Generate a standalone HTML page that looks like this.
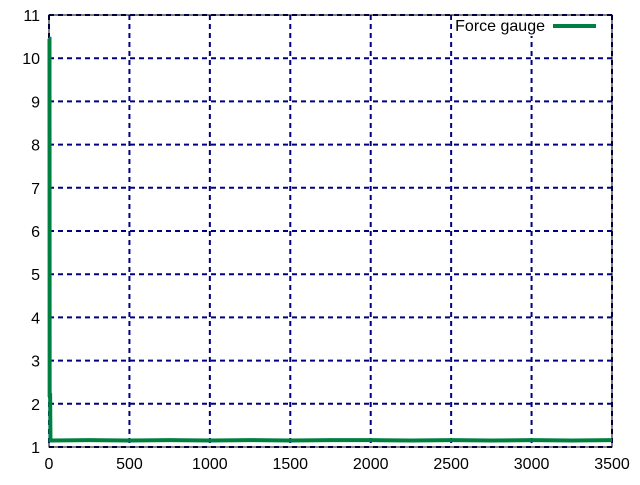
<!DOCTYPE html>
<html><head><meta charset="utf-8"><style>
body{margin:0;background:#fff;}
svg text{font-family:"Liberation Sans",sans-serif;font-size:16px;fill:#000;}
</style></head><body>
<svg id="chart" width="640" height="480">
<g id="grid"></g>
<g id="axes"></g>
<g id="series"></g>
<g>
<rect x="452" y="16" width="154" height="20" fill="#fff"/>
<text x="545" y="31" text-anchor="end">Force gauge</text>
<line x1="553" y1="26" x2="596" y2="26" stroke="#008040" stroke-width="4"/>
</g>
</svg>
<script>
const xTicks=[0,500,1000,1500,2000,2500,3000,3500];
const yTicks=[1,2,3,4,5,6,7,8,9,10,11];
const timeVals=[0,3,4,7,9,12,250,500,750,1000,1250,1500,1750,2000,2250,2500,2750,3000,3250,3500];
const forceVals=[10.45,10.45,2.2,2.2,1.15,1.15,1.16,1.15,1.16,1.15,1.16,1.15,1.16,1.16,1.15,1.16,1.15,1.16,1.15,1.16];
const L=49,R=612,T=15,B=447;
const sx=v=>L+(v-0)/(3500-0)*(R-L);
const sy=v=>B-(v-1)/(11-1)*(B-T);
const NS="http://www.w3.org/2000/svg";
function mk(tag,attrs,parent){const e=document.createElementNS(NS,tag);for(const k in attrs)e.setAttribute(k,attrs[k]);parent.appendChild(e);return e;}
const grid=document.getElementById('grid'),axes=document.getElementById('axes'),series=document.getElementById('series');
xTicks.forEach(v=>{
 const x=sx(v);
 const g=mk('line',{x1:x,y1:T,x2:x,y2:B,stroke:'#000080','stroke-width':2,'stroke-dasharray':'5,4'},grid);
 
 
 const t=mk('text',{x:x,y:B+22,'text-anchor':'middle'},axes);t.textContent=v;
 
 
});
yTicks.forEach(v=>{
 const y=sy(v);
 const g=mk('line',{x1:L,y1:y,x2:R,y2:y,stroke:'#000080','stroke-width':2,'stroke-dasharray':'5,4'},grid);
 
 
 const t=mk('text',{x:L-9,y:y+6,'text-anchor':'end'},axes);t.textContent=v;
 
 
});
const fr=mk('rect',{x:L,y:T,width:R-L,height:B-T,fill:'none',stroke:'#000','stroke-width':1},axes);


const pts=timeVals.map((t,i)=>sx(t)+','+sy(forceVals[i])).join(' ');
const pl=mk('polyline',{points:pts,fill:'none',stroke:'#008040','stroke-width':4},series);


</script>
</body></html>
